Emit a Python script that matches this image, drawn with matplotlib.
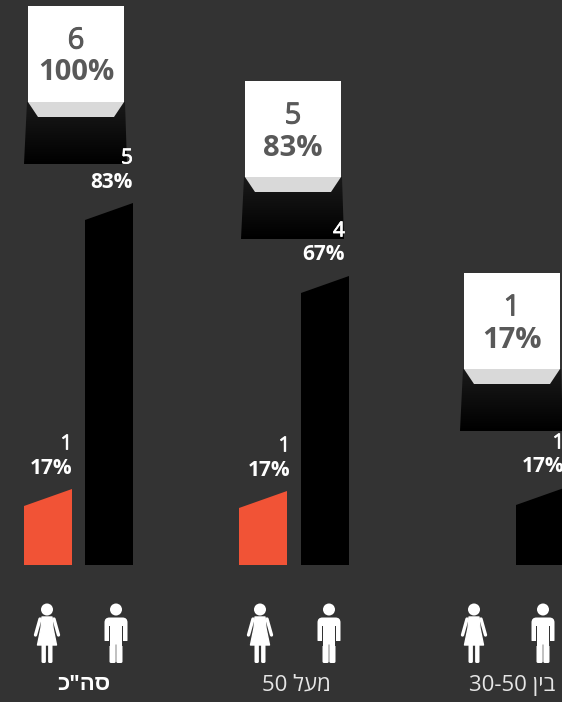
import matplotlib
matplotlib.use("Agg")
import matplotlib.pyplot as plt
import matplotlib.patheffects as pe
import numpy as np
from matplotlib.patches import Circle, FancyBboxPatch, Polygon

plt.rcParams["font.family"] = ["Open Sans", "Noto Sans", "Liberation Sans", "DejaVu Sans"]

# group labels (logical order), drawn left to right
groups = ['סה"כ', "מעל 50", "בין 30-50"]
total_counts = [6, 5, 1]
total_pct = [100, 83, 17]
men_counts = [5, 4, 1]
men_pct = [83, 67, 17]
women_counts = [1, 1, 0]
women_pct = [17, 17, 0]

# plotted heights above the baseline
total_heights = [401, 326, 134]
men_heights = [345, 272, 60]
women_heights = [59, 57, 0]

BG = "#333333"
BASE = 565
SLOPE = 17
BOX_W = 96
BOX_H = 96
BAR_W = 48

box_x = [28, 245, 464]
women_x = [24, 239, None]
men_x = [85, 301, 516]
women_label_right = [72.5, 290.5, None]
men_label_right = [133, 345, 564.5]
women_icon_x = [47, 260, 474]
men_icon_x = [116, 329, 543]
label_x = [84, 296, 512.5]


def rtl(text):
    # matplotlib has no bidi, so Hebrew runs are flipped by hand
    out = []
    for word in text.split(" "):
        if any("\u0590" <= c <= "\u05ff" for c in word):
            out.append(word[::-1])
        else:
            out.append(word)
    return " ".join(out[::-1])


def semi_bold(color, width):
    return [pe.withStroke(linewidth=width, foreground=color)]


def draw_bar(ax, x, height, color):
    top = BASE - height
    ax.add_patch(Polygon([(x, BASE), (x, top), (x + BAR_W, top - SLOPE), (x + BAR_W, BASE)],
                         closed=True, fc=color, ec="none"))


def draw_labels(ax, right, top, count, pct):
    ax.text(right, top - 45, str(count), color="white", fontsize=15, ha="right", va="center",
            path_effects=semi_bold("white", 0.5))
    ax.text(right, top - 21, f"{pct}%", color="white", fontsize=15, fontweight="bold",
            ha="right", va="center")


def draw_total(ax, x, height, count, pct):
    shadow_bottom = BASE - height
    white_bottom = shadow_bottom - 62
    top = white_bottom - BOX_H
    grad = np.linspace(0, 1, 64).reshape(-1, 1)
    img = ax.imshow(grad, cmap=matplotlib.colors.LinearSegmentedColormap.from_list("s", ["#1a1a1a", "#000000"]),
                    extent=(x - 5, x + BOX_W + 4, shadow_bottom, white_bottom), aspect="auto", zorder=2)
    clip = Polygon([(x - 1, white_bottom), (x + BOX_W + 1, white_bottom),
                    (x + BOX_W + 3, shadow_bottom), (x - 4, shadow_bottom)],
                   closed=True, transform=ax.transData, fc="none", ec="none")
    ax.add_patch(clip)
    img.set_clip_path(clip)
    ax.add_patch(Polygon([(x, white_bottom), (x + BOX_W, white_bottom),
                          (x + BOX_W - 10, white_bottom + 15), (x + 10, white_bottom + 15)],
                         closed=True, fc="#d9d9d9", ec="none", zorder=3))
    ax.add_patch(plt.Rectangle((x, top), BOX_W, BOX_H, fc="white", ec="none", zorder=3))
    cx = x + BOX_W / 2
    ax.text(cx, top + 35, str(count), color="#595959", fontsize=21, ha="center", va="center",
            zorder=4, path_effects=semi_bold("#595959", 0.7))
    ax.text(cx, top + 67, f"{pct}%", color="#595959", fontsize=21, fontweight="bold",
            ha="center", va="center", zorder=4)


def round_limb(ax, x, y, w, h):
    ax.add_patch(FancyBboxPatch((x + 1, y + 1), w - 2, h - 2, boxstyle="round,pad=1,rounding_size=1.5",
                                fc="white", ec="none", zorder=5))


def draw_man(ax, cx):
    ax.add_patch(Circle((cx, 609.5), 6, fc="white", ec="none", zorder=5))
    ax.add_patch(FancyBboxPatch((cx - 8, 621), 16, 20, boxstyle="round,pad=3.5,rounding_size=5",
                                fc="white", ec="none", zorder=5))
    round_limb(ax, cx - 6.5, 636, 6.2, 27)
    round_limb(ax, cx + 0.3, 636, 6.2, 27)
    # arms stand apart from the body by a thin gap
    for dx in (-7.2, 6.4):
        ax.add_patch(plt.Rectangle((cx + dx, 626), 0.9, 20, fc=BG, ec="none", zorder=6))
    ax.add_patch(plt.Rectangle((cx - 12, 641), 4.8, 6, fc=BG, ec="none", zorder=6))
    ax.add_patch(plt.Rectangle((cx + 7.2, 641), 4.8, 6, fc=BG, ec="none", zorder=6))


def draw_woman(ax, cx):
    ax.add_patch(Circle((cx, 609.5), 6, fc="white", ec="none", zorder=5))
    ax.add_patch(Polygon([(cx - 5, 617), (cx + 5, 617), (cx + 6, 628), (cx + 9.5, 645), (cx - 9.5, 645), (cx - 6, 628)],
                         closed=True, fc="white", ec="white", lw=1, joinstyle="round", zorder=5))
    round_limb(ax, cx - 5.5, 644, 4.4, 19)
    round_limb(ax, cx + 1.1, 644, 4.4, 19)
    ax.plot([cx - 7, cx - 11.5], [619, 635], color="white", lw=2.4, solid_capstyle="round", zorder=5)
    ax.plot([cx + 7, cx + 11.5], [619, 635], color="white", lw=2.4, solid_capstyle="round", zorder=5)


fig = plt.figure(figsize=(5.62, 7.02), dpi=100, facecolor=BG)
ax = fig.add_axes([0, 0, 1, 1], facecolor=BG)

for i, name in enumerate(groups):
    draw_total(ax, box_x[i], total_heights[i], total_counts[i], total_pct[i])
    draw_bar(ax, men_x[i], men_heights[i], "#000000")
    draw_labels(ax, men_label_right[i], BASE - men_heights[i] - SLOPE, men_counts[i], men_pct[i])
    if women_counts[i] > 0:
        draw_bar(ax, women_x[i], women_heights[i], "#f15336")
        draw_labels(ax, women_label_right[i], BASE - women_heights[i] - SLOPE, women_counts[i], women_pct[i])
    draw_woman(ax, women_icon_x[i])
    draw_man(ax, men_icon_x[i])
    ax.text(label_x[i], 685, rtl(name), color="white" if i == 0 else "#e6e6e6", fontsize=16,
            fontweight="bold" if i == 0 else "normal", ha="center", va="center")

ax.set_xlim(0, 562)
ax.set_ylim(702, 0)
ax.axis("off")
fig.savefig("out.png", dpi=100, facecolor=BG)
